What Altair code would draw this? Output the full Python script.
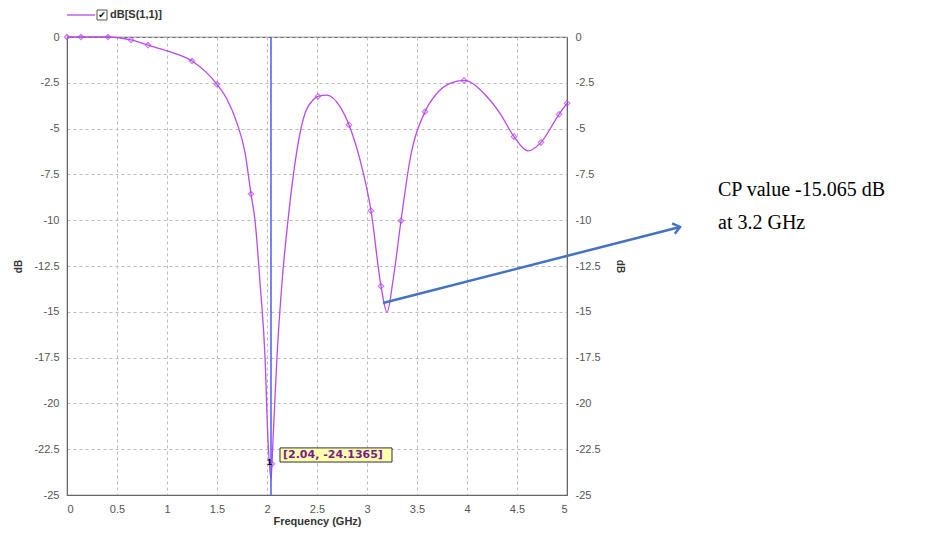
import altair as alt
import pandas as pd

# curve readings (frequency GHz, dB)
freq = [0, 0.14, 0.41, 0.64, 0.81, 1.0, 1.25, 1.5, 1.6, 1.7, 1.78, 1.84, 1.88, 1.93, 1.98, 2.01,
        2.04, 2.06, 2.10, 2.15, 2.21, 2.30, 2.36, 2.46, 2.51, 2.60, 2.73, 2.82, 2.93, 3.04, 3.14,
        3.20, 3.26, 3.34, 3.43, 3.58, 3.70, 3.83, 3.97, 4.20, 4.33, 4.47, 4.61, 4.74, 4.92, 5.0]
db = [0, 0, 0, -0.16, -0.44, -0.76, -1.31, -2.58, -3.4, -4.7, -6.3, -8.57, -10.0, -13.4, -17.45, -22.0,
      -24.14, -22.0, -17.45, -13.4, -10.0, -6.17, -4.53, -3.44, -3.24, -3.17, -3.8, -4.8, -6.7, -9.48, -13.6,
      -15.03, -13.3, -10.03, -6.7, -4.08, -3.07, -2.53, -2.37, -3.26, -4.17, -5.44, -6.22, -5.75, -4.22, -3.62]

# marker points
mk_freq = [0, 0.14, 0.41, 0.64, 0.81, 1.25, 1.5, 1.84, 2.05, 2.51, 2.82, 3.04, 3.14, 3.34, 3.58, 3.97,
           4.47, 4.74, 4.92, 5.0]
mk_db = [0, 0, 0, -0.16, -0.44, -1.31, -2.58, -8.57, -23.3, -3.24, -4.8, -9.48, -13.6, -10.03, -4.08,
         -2.37, -5.44, -5.75, -4.22, -3.62]

x_ticks = [0, 0.5, 1, 1.5, 2, 2.5, 3, 3.5, 4, 4.5, 5]
y_ticks = [0, -2.5, -5, -7.5, -10, -12.5, -15, -17.5, -20, -22.5, -25]

marker_freq = [2.04]
marker_label = ["[2.04, -24.1365]"]
arrow_from = [3.16, -14.52]
arrow_to = [6.13, -10.37]
note_lines = ["CP value -15.065 dB", "at 3.2 GHz"]

curve = pd.DataFrame({"f": freq, "db": db})
marks = pd.DataFrame({"f": mk_freq, "db": mk_db})

PURPLE = "#b84ae8"
FONT = "Liberation Sans"
LBL = "'' + datum.value"

xs = alt.Scale(domain=[0, 5], nice=False, zero=False)
ys = alt.Scale(domain=[-25, 0], nice=False, zero=False)

xax = alt.Axis(values=x_ticks, labelExpr=LBL, title="Frequency (GHz)", grid=True, gridDash=[3, 3],
               gridColor="#bbbbbb", ticks=False, labelPadding=8, domainColor="#666666",
               labelColor="#555555", labelFont=FONT, labelFontSize=11, titleFont=FONT,
               titleFontSize=11, titleFontWeight="bold", titleColor="#333333", titlePadding=1)
yax = alt.Axis(values=y_ticks, labelExpr=LBL, title="dB", grid=True, gridDash=[3, 3],
               gridColor="#bbbbbb", ticks=False, labelPadding=8, domainColor="#666666",
               labelColor="#555555", labelFont=FONT, labelFontSize=11, titleFont=FONT,
               titleFontSize=10, titleFontWeight="bold", titleColor="#333333", titlePadding=10)
yax_r = alt.Axis(values=y_ticks, labelExpr=LBL, title="dB", grid=False, orient="right",
                 ticks=False, labelPadding=8, domainColor="#666666",
                 labelColor="#555555", labelFont=FONT, labelFontSize=11, titleFont=FONT,
                 titleFontSize=10, titleFontWeight="bold", titleColor="#333333", titlePadding=14)

line = alt.Chart(curve).mark_line(color=PURPLE, strokeWidth=1.3, interpolate="monotone").encode(
    x=alt.X("f:Q", scale=xs, axis=xax),
    y=alt.Y("db:Q", scale=ys, axis=yax),
)
pts = alt.Chart(marks).mark_point(shape="diamond", filled=False, color=PURPLE, size=30, strokeWidth=1.2).encode(
    x=alt.X("f:Q", scale=xs), y=alt.Y("db:Q", scale=ys))

vline = alt.Chart(pd.DataFrame({"f": marker_freq})).mark_rule(color="#4f5bff", strokeWidth=1.5).encode(
    x=alt.X("f:Q", scale=xs), y=alt.value(0), y2=alt.value(458))

box = alt.Chart(pd.DataFrame({"x1": [2.13], "x2": [3.25], "y1": [-22.43], "y2": [-23.2]})).mark_rect(
    fill="#ffffb0", stroke="#333333", strokeWidth=1).encode(
    x=alt.X("x1:Q", scale=xs), x2="x2:Q", y=alt.Y("y1:Q", scale=ys), y2="y2:Q")
box_txt = alt.Chart(pd.DataFrame({"f": [2.16], "db": [-22.84], "t": marker_label})).mark_text(
    align="left", baseline="middle", font="DejaVu Sans", fontSize=11, fontWeight="bold", color="#7a1a8a").encode(
    x=alt.X("f:Q", scale=xs), y=alt.Y("db:Q", scale=ys), text="t:N")
one_txt = alt.Chart(pd.DataFrame({"f": [2.0], "db": [-23.2], "t": ["1"]})).mark_text(
    align="left", baseline="middle", font=FONT, fontSize=9, fontWeight="bold", color="#000000").encode(
    x=alt.X("f:Q", scale=xs), y=alt.Y("db:Q", scale=ys), text="t:N")

arrow_df = pd.DataFrame({"f": [arrow_from[0], arrow_to[0]], "db": [arrow_from[1], arrow_to[1]]})
arrow = alt.Chart(arrow_df).mark_line(color="#4472c4", strokeWidth=2.5, clip=False).encode(
    x=alt.X("f:Q", scale=xs), y=alt.Y("db:Q", scale=ys))
head = alt.Chart(pd.DataFrame({"f": [arrow_to[0]], "db": [arrow_to[1]]})).mark_point(
    shape="M-1,-0.8L0,0L-1,0.8", filled=False, color="#4472c4", strokeWidth=2.5, size=180,
    angle=345.6, clip=False, opacity=1).encode(
    x=alt.X("f:Q", scale=xs), y=alt.Y("db:Q", scale=ys))

note = alt.Chart(pd.DataFrame({"t": note_lines, "yy": [153, 186]})).mark_text(
    align="left", baseline="middle", font="Liberation Serif", fontSize=20, color="#000000").encode(
    x=alt.value(651), y=alt.Y("yy:Q", scale=None), text="t:N")

leg_line = alt.Chart(pd.DataFrame({"a": [0]})).mark_rule(color=PURPLE, strokeWidth=1.3).encode(
    x=alt.value(0), x2=alt.value(28), y=alt.value(-22))
leg_box = alt.Chart(pd.DataFrame({"a": [0]})).mark_rect(fill="#ffffff", stroke="#555555", strokeWidth=1).encode(
    x=alt.value(30), x2=alt.value(40), y=alt.value(-27), y2=alt.value(-17))
leg_chk = alt.Chart(pd.DataFrame({"t": ["✔"]})).mark_text(
    align="center", baseline="middle", font="DejaVu Sans", fontSize=9, color="#000000").encode(
    x=alt.value(35), y=alt.value(-22), text="t:N")
leg_txt = alt.Chart(pd.DataFrame({"t": ["dB[S(1,1)]"]})).mark_text(
    align="left", baseline="middle", font=FONT, fontSize=11, fontWeight="bold", color="#333333").encode(
    x=alt.value(43), y=alt.value(-22), text="t:N")

right = alt.Chart(curve).mark_line(opacity=0).encode(
    x=alt.X("f:Q", scale=xs), y=alt.Y("db:Q", scale=ys, axis=yax_r))

main = alt.layer(line, vline, pts, box, box_txt, one_txt, arrow, head, note,
                 leg_line, leg_box, leg_chk, leg_txt)
chart = alt.layer(main, right).resolve_scale(y="independent").properties(
    width=500, height=458,
    autosize=alt.AutoSizeParams(type="none"),
    padding={"left": 59, "top": 29, "right": 375, "bottom": 36},
    background="white",
).configure_view(stroke="#666666", strokeWidth=1.2)

chart.save("out.html", embed_options={"renderer": "svg", "actions": False})
